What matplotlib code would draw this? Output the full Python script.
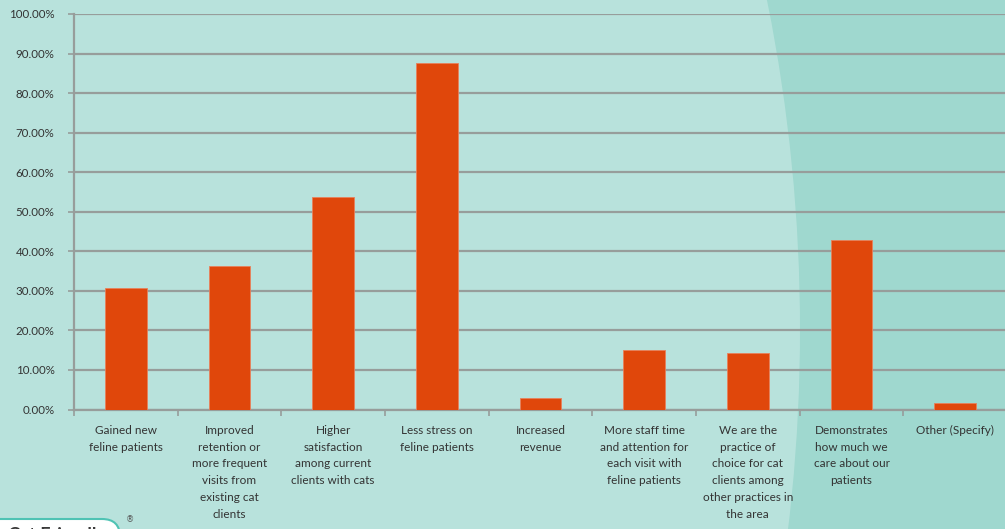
import matplotlib
matplotlib.use("Agg")
import matplotlib.pyplot as plt
from matplotlib.patches import Ellipse, FancyBboxPatch, Rectangle
from matplotlib.ticker import FuncFormatter, MultipleLocator

# Survey responses: perceived benefits of becoming a cat friendly practice
categories = [
    "Gained new\nfeline patients",
    "Improved\nretention or\nmore frequent\nvisits from\nexisting cat\nclients",
    "Higher\nsatisfaction\namong current\nclients with cats",
    "Less stress on\nfeline patients",
    "Increased\nrevenue",
    "More staff time\nand attention for\neach visit with\nfeline patients",
    "We are the\npractice of\nchoice for cat\nclients among\nother practices in\nthe area",
    "Demonstrates\nhow much we\ncare about our\npatients",
    "Other (Specify)",
]
percentages = [30.6, 36.2, 53.8, 87.6, 2.8, 15.1, 14.4, 42.9, 1.7]

W, H = 1005, 529
fig = plt.figure(figsize=(W / 100, H / 100), dpi=100)

# Background: pale teal with a darker teal band on the right
bg = fig.add_axes([0, 0, 1, 1])
bg.set_xlim(0, W)
bg.set_ylim(H, 0)
bg.axis("off")
bg.add_patch(Rectangle((0, 0), W, H, facecolor="#9fd8cf", edgecolor="none"))
R = 1666
bg.add_patch(Ellipse((800 - R, 330), 2 * R, 2 * R, facecolor="#b8e2dc", edgecolor="none"))

# Badge peeking in at the lower left corner
bg.add_patch(FancyBboxPatch((-40, 519), 160, 40, boxstyle="round,pad=0,rounding_size=18",
                            facecolor="white", edgecolor="#4fc3b4", linewidth=1.5))
bg.text(8, 535, "Cat Friendly", fontsize=13, fontweight="bold", color="#3a3a3a",
        family="Lato", va="center", ha="left")
bg.text(126, 520, "\u00ae", fontsize=6, color="#555555", va="center")

ax = fig.add_axes([74 / W, 1 - 409.5 / H, (W - 74) / W + 0.002, (409.5 - 14) / H])
ax.patch.set_alpha(0)

x = list(range(len(categories)))
ax.bar(x, percentages, width=0.4, color="#e0470b", edgecolor="#e8805a", linewidth=0.6, zorder=3)

ax.set_xlim(-0.5, len(categories) - 0.5)
ax.set_ylim(0, 100)
ax.yaxis.set_major_locator(MultipleLocator(10))
ax.yaxis.set_major_formatter(FuncFormatter(lambda v, p: f"{v:.2f}%"))
ax.grid(axis="y", color="#979d9b", linewidth=1.6, zorder=1)
ax.set_axisbelow(True)

ax.set_xticks([i - 0.5 for i in range(len(categories) + 1)], minor=False)
ax.set_xticklabels([])
ax.set_xticks(x, minor=True)
ax.set_xticklabels(categories, minor=True, fontsize=8.5, family="Lato",
                   color="#333333", linespacing=1.65, va="top")
ax.tick_params(axis="x", which="minor", length=0, pad=11)
ax.tick_params(axis="x", which="major", length=4, color="#979d9b", width=1.2)
ax.tick_params(axis="y", length=4, color="#979d9b", width=1.2, pad=10,
               labelsize=8.3, labelcolor="#333333")
for lab in ax.get_yticklabels():
    lab.set_family("Lato")

for side in ["top", "right"]:
    ax.spines[side].set_visible(False)
for side in ["left", "bottom"]:
    ax.spines[side].set_color("#979d9b")
    ax.spines[side].set_linewidth(1.6)

fig.savefig("out.png", dpi=100)
